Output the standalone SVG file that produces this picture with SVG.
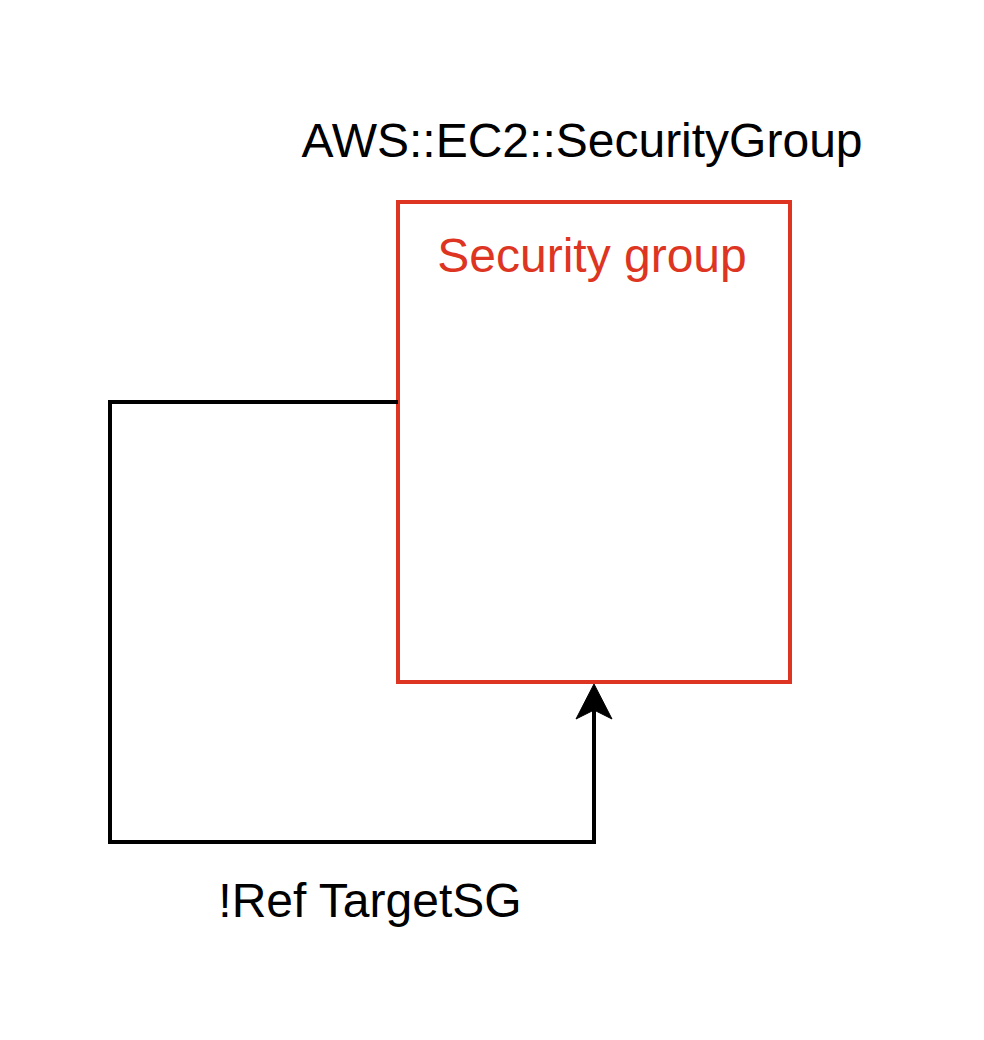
<svg xmlns="http://www.w3.org/2000/svg" width="984" height="1040" viewBox="0 0 984 1040">
<style>
.t{font-family:"Liberation Sans",Arial,sans-serif;font-size:48px;text-anchor:middle}
.edge{fill:none;stroke:#000;stroke-width:4}
</style>
<rect width="984" height="1040" fill="#fff"/>
<g id="sg">
<rect x="398" y="202" width="392" height="480" fill="none" stroke="#DD3522" stroke-width="4"/>
<text class="t" x="592" y="272" fill="#DD3522">Security group</text>
</g>
<g id="sg-label">
<text class="t" x="582" y="157" fill="#000">AWS::EC2::SecurityGroup</text>
</g>
<g id="connectors">
<path class="edge" d="M398,402 H110 V842 H594 V708"/>
<path d="M594,684 L612,719 L594,710 L576,719 Z" fill="#000" stroke="#000" stroke-width="1"/>
<text class="t" x="370" y="917" fill="#000">!Ref TargetSG</text>
</g>
</svg>
